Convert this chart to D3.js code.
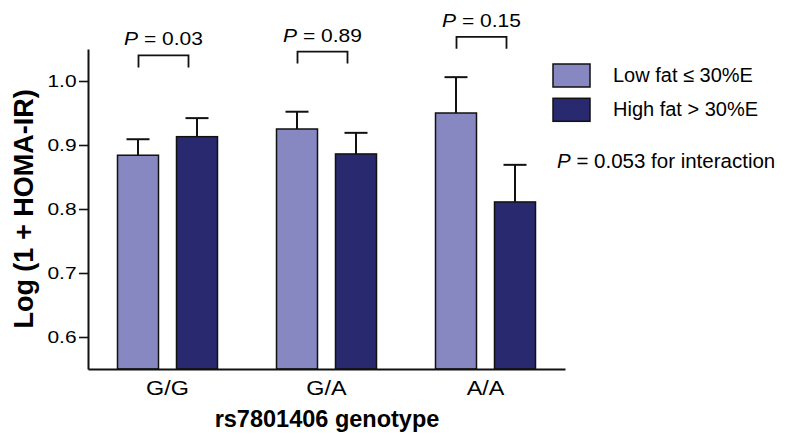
<!DOCTYPE html>
<html>
<head>
<meta charset="utf-8">
<script src="https://cdn.jsdelivr.net/npm/d3@7"></script>
<style>
  body { margin: 0; background: #fff; }
  text { font-family: "Liberation Sans", Arial, sans-serif; fill: #000; }
</style>
</head>
<body>
<div id="chart"></div>
<script>
// data
var genotypes = ["G/G", "G/A", "A/A"];
var groups = ["Low fat \u2264 30%E", "High fat > 30%E"];
var lowFat = [0.884, 0.925, 0.950];
var highFat = [0.913, 0.886, 0.811];
var lowFatSE = [0.025, 0.027, 0.056];
var highFatSE = [0.029, 0.033, 0.058];
var pValues = ["0.03", "0.89", "0.15"];
var pLevel = [1.040, 1.046, 1.069];
var yTicks = [0.6, 0.7, 0.8, 0.9, 1.0];
var interactionP = "0.053";

var colors = ["#8788c1", "#29296f"];

var width = 787, height = 443;
var svg = d3.select("#chart").append("svg")
  .attr("width", width)
  .attr("height", height);

var x0 = d3.scaleBand().domain(genotypes).range([88, 565]).padding(0);
var x1 = d3.scaleBand().domain([0, 1]).range([-50, 50]).paddingInner(0.305);
var y = d3.scaleLinear().domain([0.55, 1.05]).range([369, 49]);

var rows = genotypes.map(function(g, i) {
  return {
    id: g,
    vals: [
      { k: 0, v: lowFat[i], e: lowFatSE[i] },
      { k: 1, v: highFat[i], e: highFatSE[i] }
    ]
  };
});

// bars
var grp = svg.selectAll(".grp")
  .data(rows)
  .enter().append("g")
  .attr("class", "grp")
  .attr("transform", function(d) { return "translate(" + (x0(d.id) + x0.bandwidth() / 2) + ",0)"; });

grp.selectAll("rect")
  .data(function(d) { return d.vals; })
  .enter().append("rect")
  .attr("x", function(d) { return x1(d.k); })
  .attr("y", function(d) { return y(d.v); })
  .attr("width", x1.bandwidth())
  .attr("height", function(d) { return y(0.55) - y(d.v); })
  .attr("fill", function(d) { return colors[d.k]; })
  .attr("stroke", "#111")
  .attr("stroke-width", 1.5);

// error bars (upper only)
var err = grp.selectAll(".err")
  .data(function(d) { return d.vals; })
  .enter().append("g")
  .attr("class", "err")
  .attr("transform", function(d) { return "translate(" + (x1(d.k) + x1.bandwidth() / 2) + ",0)"; });

err.append("line")
  .attr("x1", 0).attr("x2", 0)
  .attr("y1", function(d) { return y(d.v); })
  .attr("y2", function(d) { return y(d.v + d.e); })
  .attr("stroke", "#111").attr("stroke-width", 2);

err.append("line")
  .attr("x1", -11.5).attr("x2", 11.5)
  .attr("y1", function(d) { return y(d.v + d.e); })
  .attr("y2", function(d) { return y(d.v + d.e); })
  .attr("stroke", "#111").attr("stroke-width", 2);

// axes
var yAxis = svg.append("g")
  .attr("transform", "translate(88,0)")
  .call(d3.axisLeft(y).tickValues(yTicks).tickFormat(d3.format(".1f")).tickSize(9).tickSizeOuter(0));
yAxis.select(".domain").attr("stroke", "#111").attr("stroke-width", 2);
yAxis.selectAll(".tick line").attr("stroke", "#111").attr("stroke-width", 1.6);
yAxis.selectAll(".tick text")
  .attr("x", -9)
  .attr("transform", "scale(1.27,1)")
  .style("font-size", "16.5px")
  .style("font-family", "'Liberation Sans', Arial, sans-serif")
  .attr("fill", "#000");

var xAxis = svg.append("g")
  .attr("transform", "translate(0,369)")
  .call(d3.axisBottom(x0).tickSize(0).tickSizeOuter(0));
xAxis.select(".domain").attr("stroke", "#111").attr("stroke-width", 2);
xAxis.selectAll(".tick text")
  .attr("x", 0)
  .attr("y", 26)
  .attr("dy", null)
  .attr("transform", "scale(1.17,1)")
  .style("font-size", "20px")
  .style("font-family", "'Liberation Sans', Arial, sans-serif")
  .attr("fill", "#000");

// axis titles
svg.append("text")
  .attr("transform", "translate(33,209) rotate(-90)")
  .attr("text-anchor", "middle")
  .style("font-size", "27px")
  .style("font-weight", "bold")
  .text("Log (1 + HOMA-IR)");

svg.append("text")
  .attr("x", 327)
  .attr("y", 427)
  .attr("text-anchor", "middle")
  .style("font-size", "23.5px")
  .style("font-weight", "bold")
  .text("rs7801406 genotype");

// P value brackets
var brk = svg.selectAll(".brk")
  .data(genotypes)
  .enter().append("g")
  .attr("class", "brk")
  .attr("transform", function(d, i) { return "translate(" + (x0(d) + x0.bandwidth() / 2 - 4) + "," + y(pLevel[i]) + ")"; });

brk.append("path")
  .attr("d", "M-25,12V0H25V12")
  .attr("fill", "none")
  .attr("stroke", "#111")
  .attr("stroke-width", 1.8);

var pt = brk.append("text")
  .attr("y", -10)
  .attr("text-anchor", "middle")
  .attr("transform", "scale(1.2,1)")
  .style("font-size", "17.5px");
pt.append("tspan").style("font-style", "italic").text("P");
pt.append("tspan").text(function(d, i) { return " = " + pValues[i]; });

// legend
var leg = svg.selectAll(".leg")
  .data(groups)
  .enter().append("g")
  .attr("class", "leg")
  .attr("transform", function(d, i) { return "translate(553," + (64 + i * 34.3) + ")"; });

leg.append("rect")
  .attr("width", 37)
  .attr("height", 23)
  .attr("fill", function(d, i) { return colors[i]; })
  .attr("stroke", "#111")
  .attr("stroke-width", 1.5);

leg.append("text")
  .attr("x", 60)
  .attr("y", 18)
  .style("font-size", "20px")
  .text(function(d) { return d; });

var it = svg.append("text")
  .attr("x", 557)
  .attr("y", 168)
  .style("font-size", "20.5px");
it.append("tspan").style("font-style", "italic").text("P");
it.append("tspan").text(" = " + interactionP + " for interaction");
</script>
</body>
</html>
